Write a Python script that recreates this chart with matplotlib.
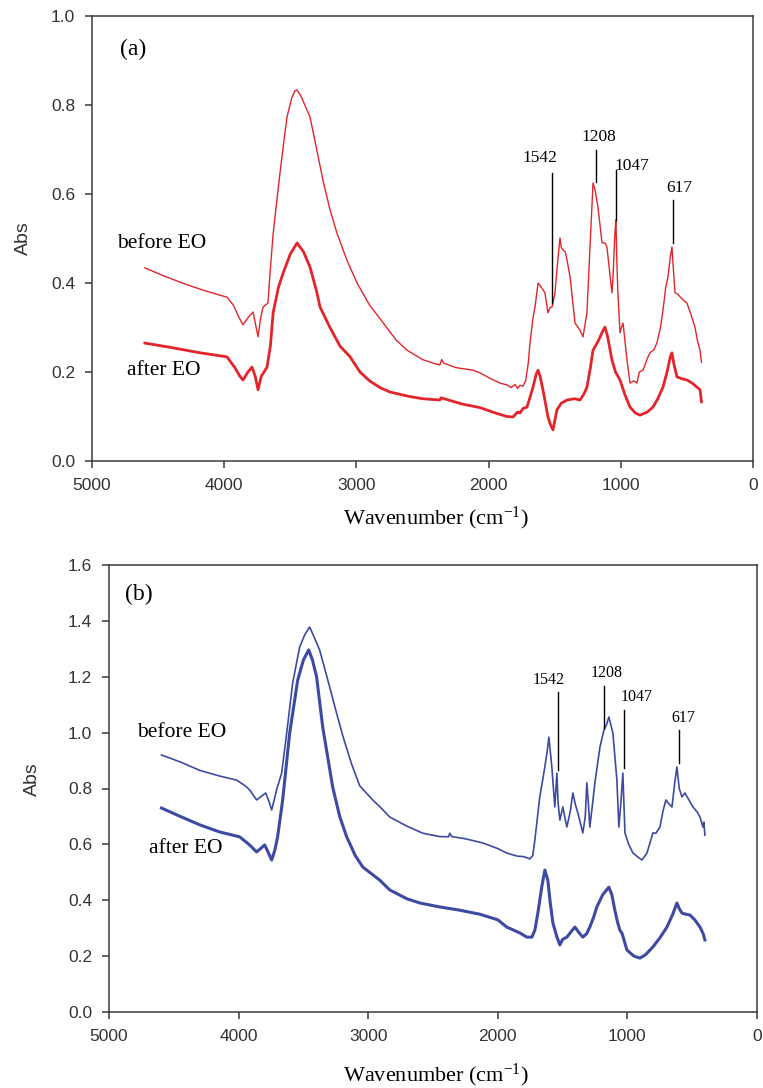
import matplotlib
matplotlib.use("Agg")
import matplotlib.pyplot as plt

plt.rcParams['font.family'] = ['Liberation Sans', 'DejaVu Sans']
plt.rcParams['mathtext.fontset'] = 'custom'
plt.rcParams['mathtext.rm'] = 'Liberation Serif'
plt.rcParams['mathtext.it'] = 'Liberation Serif:italic'

# ---- panel (a): red spectra ----
a_before_wn = [4600, 4450, 4300, 4150, 3979, 3930, 3900, 3880, 3858, 3820, 3782, 3765, 3744, 3725,
               3706, 3669, 3654, 3630, 3600, 3578, 3550, 3525, 3490, 3465, 3449, 3420, 3390, 3351,
               3300, 3253, 3200, 3147, 3070, 2995, 2900, 2822, 2700, 2617, 2500, 2400, 2368, 2355,
               2340, 2250, 2118, 2065, 1990, 1914, 1861, 1830, 1800, 1780, 1762, 1740, 1720, 1700,
               1687, 1665, 1649, 1626, 1600, 1574, 1551, 1535, 1520, 1498, 1480, 1460, 1450, 1437,
               1420, 1407, 1384, 1346, 1309, 1286, 1256, 1233, 1210, 1195, 1173, 1142, 1120, 1105,
               1067, 1059, 1045, 1037, 1030, 1022, 1006, 995, 983, 965, 953, 930, 900, 878, 860,
               832, 800, 780, 750, 727, 700, 681, 660, 643, 625, 613, 600, 590, 570, 552, 520, 500,
               470, 439, 420, 401, 390]
a_before_abs = [0.434, 0.415, 0.398, 0.383, 0.368, 0.350, 0.330, 0.318, 0.306, 0.322, 0.335, 0.310,
                0.279, 0.320, 0.346, 0.355, 0.420, 0.510, 0.590, 0.647, 0.715, 0.773, 0.815, 0.832,
                0.834, 0.820, 0.800, 0.773, 0.700, 0.631, 0.565, 0.512, 0.450, 0.400, 0.350, 0.320,
                0.272, 0.249, 0.228, 0.218, 0.216, 0.228, 0.220, 0.210, 0.204, 0.198, 0.186, 0.175,
                0.171, 0.165, 0.172, 0.163, 0.170, 0.168, 0.180, 0.220, 0.265, 0.320, 0.346, 0.400,
                0.390, 0.378, 0.333, 0.345, 0.346, 0.378, 0.440, 0.501, 0.480, 0.474, 0.470, 0.452,
                0.414, 0.310, 0.294, 0.279, 0.333, 0.481, 0.625, 0.610, 0.571, 0.490, 0.490, 0.481,
                0.378, 0.414, 0.510, 0.542, 0.450, 0.378, 0.288, 0.300, 0.310, 0.260, 0.227, 0.175,
                0.180, 0.175, 0.200, 0.204, 0.230, 0.243, 0.250, 0.265, 0.300, 0.339, 0.390, 0.414,
                0.460, 0.481, 0.420, 0.378, 0.375, 0.369, 0.360, 0.355, 0.330, 0.301, 0.270, 0.249,
                0.222]

a_after_wn = [4600, 4400, 4200, 3979, 3920, 3880, 3858, 3820, 3790, 3765, 3744, 3720, 3676, 3650,
              3630, 3590, 3555, 3500, 3449, 3400, 3351, 3300, 3275, 3200, 3124, 3050, 2973, 2900,
              2822, 2746, 2600, 2500, 2368, 2360, 2200, 2065, 1950, 1861, 1815, 1780, 1762, 1740,
              1710, 1690, 1664, 1640, 1626, 1610, 1589, 1570, 1551, 1530, 1513, 1500, 1483, 1450,
              1407, 1350, 1309, 1280, 1256, 1230, 1210, 1170, 1140, 1120, 1100, 1067, 1040, 1006,
              970, 930, 890, 855, 800, 757, 720, 681, 650, 625, 613, 600, 575, 540, 500, 460, 424,
              400, 390]
a_after_abs = [0.265, 0.255, 0.244, 0.234, 0.210, 0.190, 0.182, 0.200, 0.211, 0.190, 0.160, 0.190,
               0.211, 0.260, 0.333, 0.390, 0.422, 0.465, 0.490, 0.470, 0.436, 0.380, 0.346, 0.300,
               0.258, 0.235, 0.200, 0.180, 0.165, 0.155, 0.145, 0.140, 0.137, 0.142, 0.128, 0.120,
               0.108, 0.100, 0.099, 0.110, 0.108, 0.118, 0.121, 0.140, 0.166, 0.195, 0.204, 0.190,
               0.160, 0.130, 0.099, 0.080, 0.070, 0.090, 0.115, 0.130, 0.137, 0.140, 0.137, 0.150,
               0.166, 0.210, 0.249, 0.270, 0.290, 0.301, 0.280, 0.227, 0.200, 0.182, 0.150, 0.121,
               0.108, 0.103, 0.110, 0.121, 0.140, 0.166, 0.200, 0.235, 0.243, 0.220, 0.189, 0.185,
               0.182, 0.175, 0.166, 0.160, 0.133]

a_peak_labels = ["1542", "1208", "1047", "617"]
a_line_wn = [1520, 1188, 1036, 605]
a_line_lo = [0.355, 0.627, 0.542, 0.490]
a_line_hi = [0.647, 0.699, 0.654, 0.587]
a_text_wn = [1611, 1165, 915, 560]
a_text_y = [0.681, 0.728, 0.663, 0.613]

# ---- panel (b): blue spectra ----
b_before_wn = [4595, 4450, 4300, 4150, 4015, 3950, 3915, 3861, 3830, 3791, 3770, 3745, 3725, 3707,
               3668, 3629, 3583, 3529, 3490, 3452, 3420, 3375, 3297, 3250, 3197, 3130, 3066, 2965,
               2900, 2834, 2700, 2579, 2450, 2380, 2371, 2355, 2250, 2116, 2000, 1931, 1850, 1800,
               1753, 1730, 1714, 1676, 1637, 1620, 1606, 1583, 1560, 1544, 1535, 1521, 1498, 1480,
               1467, 1440, 1421, 1400, 1382, 1344, 1325, 1313, 1300, 1290, 1270, 1251, 1212, 1181,
               1160, 1143, 1112, 1081, 1066, 1050, 1035, 1019, 990, 957, 920, 888, 849, 803, 780,
               749, 725, 703, 680, 656, 635, 618, 600, 579, 556, 520, 494, 460, 440, 417, 410, 402]
b_before_abs = [0.920, 0.895, 0.865, 0.845, 0.830, 0.810, 0.795, 0.759, 0.770, 0.784, 0.760, 0.723,
                0.760, 0.795, 0.855, 0.998, 1.177, 1.306, 1.350, 1.378, 1.345, 1.296, 1.163, 1.080,
                0.990, 0.890, 0.810, 0.759, 0.730, 0.698, 0.665, 0.640, 0.628, 0.627, 0.640, 0.628,
                0.620, 0.605, 0.585, 0.569, 0.558, 0.556, 0.548, 0.560, 0.616, 0.770, 0.877, 0.930,
                0.984, 0.877, 0.734, 0.855, 0.750, 0.687, 0.734, 0.690, 0.662, 0.720, 0.784, 0.740,
                0.712, 0.641, 0.700, 0.820, 0.740, 0.662, 0.740, 0.820, 0.948, 1.009, 1.030, 1.056,
                0.998, 0.830, 0.662, 0.750, 0.855, 0.641, 0.600, 0.569, 0.555, 0.544, 0.569, 0.641,
                0.640, 0.662, 0.720, 0.759, 0.745, 0.734, 0.820, 0.877, 0.800, 0.770, 0.784, 0.755,
                0.734, 0.715, 0.698, 0.662, 0.680, 0.633]

b_after_wn = [4595, 4450, 4300, 4150, 3992, 3920, 3861, 3830, 3799, 3770, 3745, 3720, 3699, 3660,
              3606, 3544, 3500, 3459, 3430, 3398, 3351, 3274, 3220, 3166, 3100, 3042, 2911, 2834,
              2700, 2600, 2448, 2300, 2139, 2000, 1931, 1830, 1776, 1737, 1714, 1691, 1660, 1637,
              1614, 1595, 1575, 1545, 1521, 1500, 1467, 1430, 1405, 1375, 1344, 1315, 1290, 1260,
              1236, 1190, 1143, 1120, 1097, 1075, 1058, 1040, 1004, 950, 903, 860, 803, 750, 695,
              650, 618, 600, 579, 550, 517, 480, 440, 415, 402]
b_after_abs = [0.730, 0.700, 0.670, 0.645, 0.627, 0.600, 0.573, 0.585, 0.598, 0.570, 0.544, 0.580,
               0.627, 0.759, 0.998, 1.188, 1.260, 1.296, 1.260, 1.199, 1.020, 0.805, 0.700, 0.627,
               0.560, 0.519, 0.472, 0.437, 0.405, 0.390, 0.376, 0.365, 0.350, 0.330, 0.304, 0.283,
               0.268, 0.268, 0.293, 0.354, 0.450, 0.508, 0.472, 0.390, 0.319, 0.270, 0.240, 0.260,
               0.268, 0.290, 0.304, 0.285, 0.268, 0.280, 0.304, 0.340, 0.376, 0.420, 0.447, 0.420,
               0.365, 0.320, 0.293, 0.280, 0.222, 0.200, 0.193, 0.205, 0.233, 0.265, 0.304, 0.350,
               0.390, 0.370, 0.354, 0.350, 0.347, 0.330, 0.304, 0.280, 0.258]

b_peak_labels = ["1542", "1208", "1047", "617"]
b_line_wn = [1537, 1181, 1027, 602]
b_line_lo = [0.866, 1.016, 0.873, 0.890]
b_line_hi = [1.145, 1.167, 1.081, 1.009]
b_text_wn = [1606, 1160, 925, 570]
b_text_y = [1.19, 1.213, 1.127, 1.052]

red = '#e3242b'
blue = '#3d4aa3'
axis_grey = '#3a3a3a'
serif = ['Liberation Serif', 'DejaVu Serif']


def style_axes(ax, ymax):
    ax.set_xlim(5000, 0)
    ax.set_ylim(0, ymax)
    ax.set_xticks([5000, 4000, 3000, 2000, 1000, 0])
    ax.set_yticks([i * 0.2 for i in range(int(round(ymax / 0.2)) + 1)])
    ax.yaxis.set_major_formatter(matplotlib.ticker.FormatStrFormatter('%.1f'))
    for sp in ax.spines.values():
        sp.set_color(axis_grey)
        sp.set_linewidth(1.1)
    ax.tick_params(direction='out', length=5, width=1.1, color=axis_grey,
                   labelsize=12.5, labelcolor='#333333', pad=7)


def draw_panel(ax, before_wn, before_abs, after_wn, after_abs, color, lw_thin, lw_thick,
               labels, line_wn, line_lo, line_hi, text_wn, text_y, fsize):
    ax.plot(before_wn, before_abs, color=color, linewidth=lw_thin)
    ax.plot(after_wn, after_abs, color=color, linewidth=lw_thick)
    for i in range(len(labels)):
        ax.plot([line_wn[i], line_wn[i]], [line_lo[i], line_hi[i]], color='k', linewidth=1.0)
        ax.text(text_wn[i], text_y[i], labels[i], family=serif, fontsize=fsize,
                ha='center', va='center')


fig = plt.figure(figsize=(7.63, 10.88), dpi=100)

ax1 = fig.add_axes([92 / 763, 1 - 461 / 1088, 661 / 763, 445 / 1088])
style_axes(ax1, 1.0)
draw_panel(ax1, a_before_wn, a_before_abs, a_after_wn, a_after_abs, red, 1.0, 2.0,
           a_peak_labels, a_line_wn, a_line_lo, a_line_hi, a_text_wn, a_text_y, 12.5)
ax1.text(4690, 0.925, "(a)", family=serif, fontsize=17, ha='center', va='center')
ax1.text(4470, 0.488, "before EO", family=serif, fontsize=15.5, ha='center', va='center')
ax1.text(4455, 0.204, "after EO", family=serif, fontsize=15.5, ha='center', va='center')
ax1.set_ylabel("Abs", fontsize=14, color='#333333')
ax1.yaxis.set_label_coords(-0.091, 0.5)
ax1.set_xlabel("Wavenumber (cm$^{-1}$)", family=serif, fontsize=16)
ax1.xaxis.set_label_coords((436 - 92) / 661, -0.098)

ax2 = fig.add_axes([109 / 763, 1 - 1012 / 1088, 648 / 763, 447 / 1088])
style_axes(ax2, 1.6)
draw_panel(ax2, b_before_wn, b_before_abs, b_after_wn, b_after_abs, blue, 1.2, 2.2,
           b_peak_labels, b_line_wn, b_line_lo, b_line_hi, b_text_wn, b_text_y, 11.5)
ax2.text(4770, 1.495, "(b)", family=serif, fontsize=17, ha='center', va='center')
ax2.text(4440, 1.0, "before EO", family=serif, fontsize=15.5, ha='center', va='center')
ax2.text(4410, 0.585, "after EO", family=serif, fontsize=15.5, ha='center', va='center')
ax2.set_ylabel("Abs", fontsize=14, color='#333333')
ax2.yaxis.set_label_coords(-0.105, 0.52)
ax2.set_xlabel("Wavenumber (cm$^{-1}$)", family=serif, fontsize=16)
ax2.xaxis.set_label_coords((436 - 109) / 648, -0.112)

fig.savefig("out.png", dpi=100)
